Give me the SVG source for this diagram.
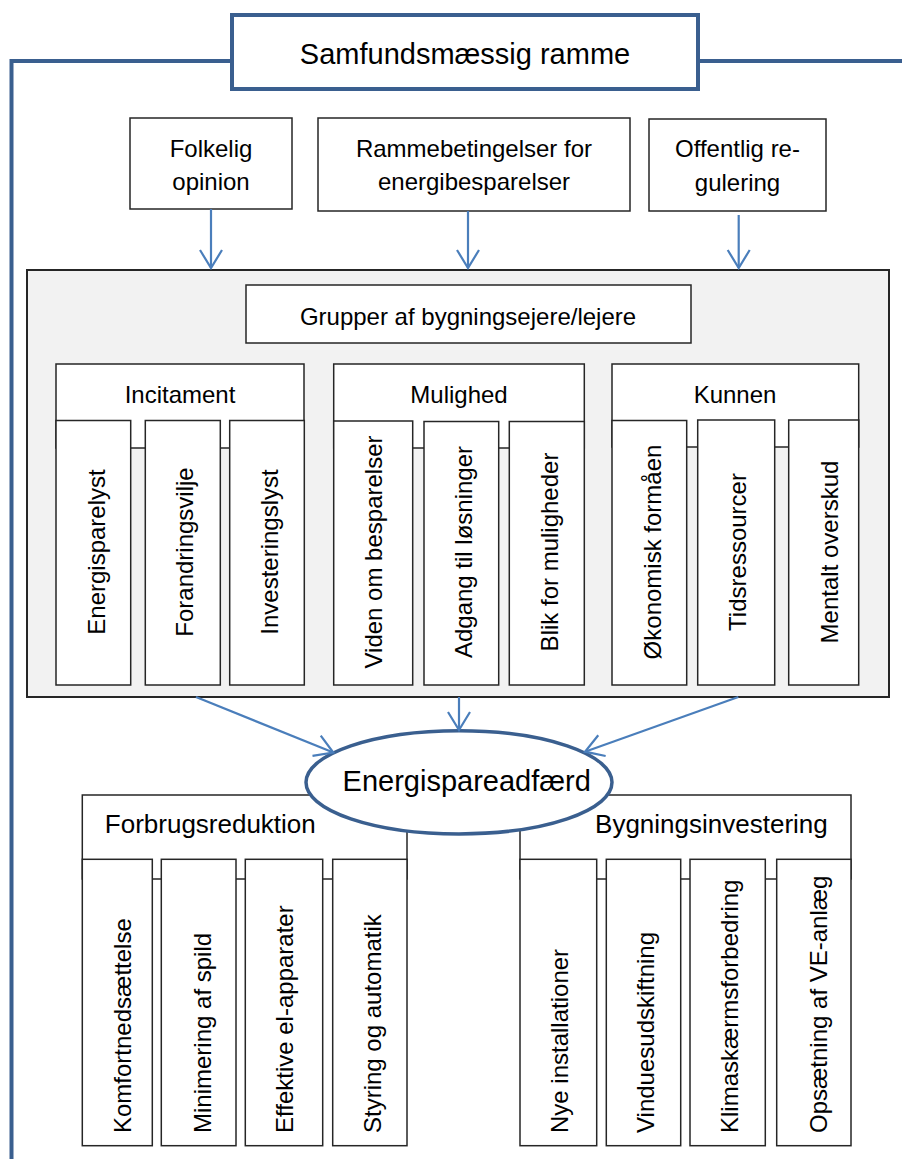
<svg xmlns="http://www.w3.org/2000/svg" width="902" height="1159" viewBox="0 0 902 1159">
  <defs>
    <style>
      text { font-family: "Liberation Sans", Arial, sans-serif; font-size: 24px; fill: #000; }
      .big { font-size: 29px; }
      .hdr { font-size: 26px; }
      .frame { fill: none; stroke: #3A5F8F; stroke-width: 4; }
      .title { fill: #fff; stroke: #3A5F8F; stroke-width: 4; }
      .box { fill: #fff; stroke: #262626; stroke-width: 1.5; }
      .panel { fill: #F2F2F2; stroke: #262626; stroke-width: 2; }
      .conn { fill: none; stroke: #4A7EBB; stroke-width: 2.2; marker-end: url(#arr); }
      .oval { fill: #fff; stroke: #3A5F8F; stroke-width: 3.5; }
    </style>
    <marker id="arr" viewBox="-20 -13 22 26" refX="0" refY="0" markerWidth="22" markerHeight="26" markerUnits="userSpaceOnUse" orient="auto">
      <path d="M-18,-11 L0,0 L-18,11" fill="none" stroke="#4A7EBB" stroke-width="2.2"/>
    </marker>
  </defs>

  <rect width="902" height="1159" fill="#fff"/>

  <!-- outer societal frame -->
  <g id="frame">
    <path class="frame" d="M11.5,1159 V61 H233 M698,61 H902"/>
    <rect class="title" x="232" y="15" width="466" height="74"/>
    <text x="465" y="64" text-anchor="middle" class="big">Samfundsmæssig ramme</text>
  </g>

  <!-- external influences -->
  <g id="folkelig">
    <rect class="box" x="130" y="118" width="162" height="91"/>
    <text x="211" y="157" text-anchor="middle">Folkelig</text>
    <text x="211" y="190" text-anchor="middle">opinion</text>
  </g>
  <g id="rammebetingelser">
    <rect class="box" x="318" y="118" width="312" height="93"/>
    <text x="474" y="157" text-anchor="middle">Rammebetingelser for</text>
    <text x="474" y="190" text-anchor="middle">energibesparelser</text>
  </g>
  <g id="regulering">
    <rect class="box" x="649" y="119" width="177" height="92"/>
    <text x="737.5" y="157" text-anchor="middle">Offentlig re-</text>
    <text x="737.5" y="191" text-anchor="middle">gulering</text>
  </g>

  <!-- owner/tenant groups panel -->
  <g id="grupper">
    <rect class="panel" x="27" y="270" width="862" height="427"/>
    <rect class="box" x="246" y="285" width="445" height="58"/>
    <text x="468" y="325" text-anchor="middle">Grupper af bygningsejere/lejere</text>
  </g>

  <g id="incitament">
    <rect class="box" x="56" y="364" width="248" height="84"/>
    <text x="180" y="403" text-anchor="middle">Incitament</text>
    <rect class="box" x="56" y="420.5" width="74.7" height="264.5"/>
    <rect class="box" x="145.3" y="420.5" width="75" height="264.5"/>
    <rect class="box" x="229.7" y="420.5" width="74.6" height="264.5"/>
    <text transform="translate(105,552) rotate(-90)" text-anchor="middle">Energisparelyst</text>
    <text transform="translate(193.3,552) rotate(-90)" text-anchor="middle">Forandringsvilje</text>
    <text transform="translate(278.3,552) rotate(-90)" text-anchor="middle">Investeringslyst</text>
  </g>

  <g id="mulighed">
    <rect class="box" x="333.7" y="364" width="250.6" height="84"/>
    <text x="459" y="403" text-anchor="middle">Mulighed</text>
    <rect class="box" x="333.7" y="421" width="79" height="264"/>
    <rect class="box" x="424" y="421.5" width="74.7" height="263.5"/>
    <rect class="box" x="509.3" y="421.5" width="75" height="263.5"/>
    <text transform="translate(382.3,552) rotate(-90)" text-anchor="middle">Viden om besparelser</text>
    <text transform="translate(472.3,552) rotate(-90)" text-anchor="middle">Adgang til løsninger</text>
    <text transform="translate(557.7,552) rotate(-90)" text-anchor="middle">Blik for muligheder</text>
  </g>

  <g id="kunnen">
    <rect class="box" x="612" y="364" width="246.7" height="83"/>
    <text x="735" y="402.5" text-anchor="middle">Kunnen</text>
    <rect class="box" x="612" y="420.5" width="74.7" height="264.5"/>
    <rect class="box" x="697.7" y="420" width="77" height="265"/>
    <rect class="box" x="788.7" y="420" width="70" height="265"/>
    <text transform="translate(660.7,552) rotate(-90)" text-anchor="middle">Økonomisk formåen</text>
    <text transform="translate(746,552) rotate(-90)" text-anchor="middle">Tidsressourcer</text>
    <text transform="translate(838.3,552) rotate(-90)" text-anchor="middle">Mentalt overskud</text>
  </g>

  <!-- behaviour outcomes -->
  <g id="forbrugsreduktion">
    <rect class="box" x="82.3" y="795" width="324.7" height="84"/>
    <text x="210.3" y="832.7" text-anchor="middle" class="hdr">Forbrugsreduktion</text>
    <rect class="box" x="82.3" y="859.3" width="70" height="286.4"/>
    <rect class="box" x="161.3" y="859.3" width="74.7" height="286.4"/>
    <rect class="box" x="245.3" y="859.3" width="77.4" height="286.4"/>
    <rect class="box" x="332.7" y="859.3" width="74.3" height="286.4"/>
    <text transform="translate(131,1133) rotate(-90)">Komfortnedsættelse</text>
    <text transform="translate(210.7,1133) rotate(-90)">Minimering af spild</text>
    <text transform="translate(293.3,1133) rotate(-90)">Effektive el-apparater</text>
    <text transform="translate(381.3,1133) rotate(-90)">Styring og automatik</text>
  </g>

  <g id="bygningsinvestering">
    <rect class="box" x="520" y="795" width="331" height="84"/>
    <text x="711.4" y="832.7" text-anchor="middle" class="hdr">Bygningsinvestering</text>
    <rect class="box" x="520" y="859.3" width="76.7" height="286.4"/>
    <rect class="box" x="606.3" y="859.3" width="74.4" height="286.4"/>
    <rect class="box" x="690" y="859.3" width="75.3" height="286.4"/>
    <rect class="box" x="776.7" y="859.3" width="74.3" height="286.4"/>
    <text transform="translate(568.3,1133) rotate(-90)">Nye installationer</text>
    <text transform="translate(654.3,1133) rotate(-90)">Vinduesudskiftning</text>
    <text transform="translate(738.3,1133) rotate(-90)">Klimaskærmsforbedring</text>
    <text transform="translate(826.5,1133) rotate(-90)">Opsætning af VE-anlæg</text>
  </g>

  <g id="energispareadfaerd">
    <ellipse class="oval" cx="459" cy="782.3" rx="153" ry="51.6"/>
    <text x="466.7" y="790.7" text-anchor="middle" class="big">Energispareadfærd</text>
  </g>

  <!-- connectors -->
  <g id="connectors">
    <line class="conn" x1="211" y1="209" x2="211" y2="268"/>
    <line class="conn" x1="468" y1="211" x2="468" y2="268"/>
    <line class="conn" x1="738.7" y1="215" x2="738.7" y2="268"/>
    <line class="conn" x1="196" y1="697" x2="333.3" y2="752.5"/>
    <line class="conn" x1="459" y1="697" x2="459" y2="730"/>
    <line class="conn" x1="738.3" y1="697" x2="585" y2="751.7"/>
  </g>
</svg>
